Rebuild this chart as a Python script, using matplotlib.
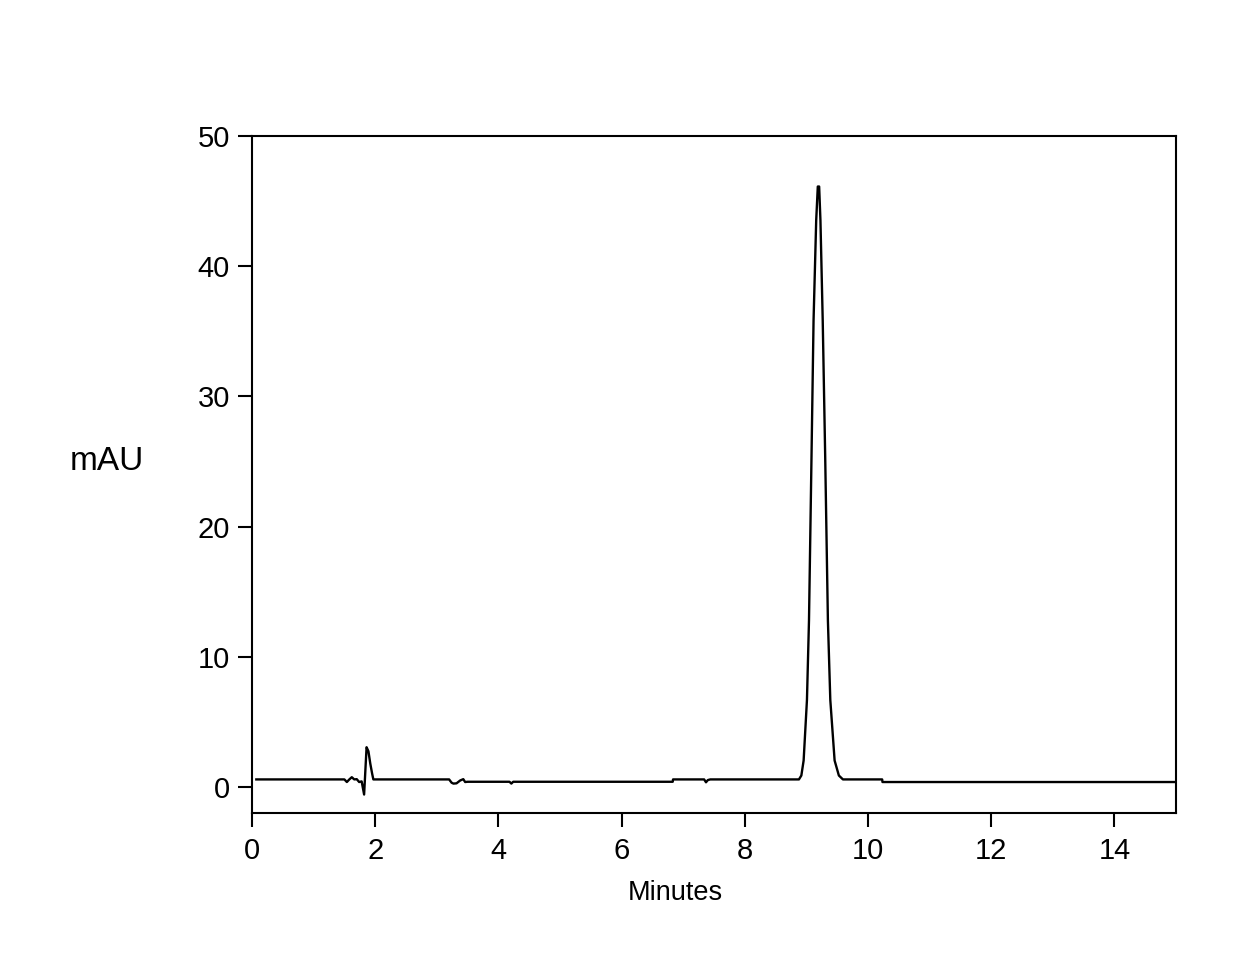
import matplotlib
matplotlib.use("Agg")
import matplotlib.pyplot as plt

# Chromatogram trace (minutes, mAU)
time_min = [0.07, 1.50, 1.54, 1.58, 1.62, 1.66, 1.70, 1.74, 1.78, 1.82, 1.86, 1.89, 1.92, 1.95, 1.97,
            3.20, 3.24, 3.27, 3.32, 3.38, 3.43, 3.46, 3.50,
            4.18, 4.21, 4.24,
            6.83, 6.835,
            7.34, 7.37, 7.40, 7.44,
            8.879, 8.918, 8.955, 9.009, 9.042, 9.083, 9.116, 9.159, 9.185, 9.207,
            9.228, 9.265, 9.305, 9.349, 9.388, 9.458, 9.527, 9.593,
            10.23, 10.235, 14.99]
signal_mau = [0.60, 0.60, 0.40, 0.60, 0.77, 0.60, 0.62, 0.40, 0.45, -0.56, 3.07, 2.76, 1.82, 1.05, 0.60,
              0.60, 0.35, 0.28, 0.30, 0.52, 0.62, 0.40, 0.42,
              0.42, 0.28, 0.42,
              0.42, 0.60,
              0.60, 0.38, 0.55, 0.60,
              0.60, 0.90, 2.05, 6.70, 12.8, 25.4, 35.8, 43.5, 46.1, 46.1,
              43.5, 35.8, 25.4, 12.8, 6.70, 2.05, 0.90, 0.60,
              0.60, 0.40, 0.40]

x_ticks = [0, 2, 4, 6, 8, 10, 12, 14]
y_ticks = [0, 10, 20, 30, 40, 50]

plt.rcParams['font.family'] = ['Liberation Sans', 'DejaVu Sans']

fig = plt.figure(figsize=(12.47, 9.80), dpi=100)
ax = fig.add_axes([252/1247, 1 - 813.3/980, (1176 - 252)/1247, (813.3 - 135.7)/980])

ax.plot(time_min, signal_mau, color='black', lw=1.7)

ax.set_xlim(0, 15)
ax.set_ylim(-2, 50)
ax.set_xticks(x_ticks)
ax.set_yticks(y_ticks)
ax.tick_params(axis='both', direction='out', length=10, width=1.5, labelsize=21, color='black')
ax.tick_params(axis='x', pad=7)
ax.tick_params(axis='y', pad=6)
for s in ax.spines.values():
    s.set_linewidth(1.5)
    s.set_color('black')

fig.text(107/1247, 1 - 461/980, 'mAU', fontsize=24, ha='center', va='center')
fig.text(675/1247, 1 - 893/980, 'Minutes', fontsize=19.5, ha='center', va='center')

fig.savefig('out.png', dpi=100, facecolor='white')
